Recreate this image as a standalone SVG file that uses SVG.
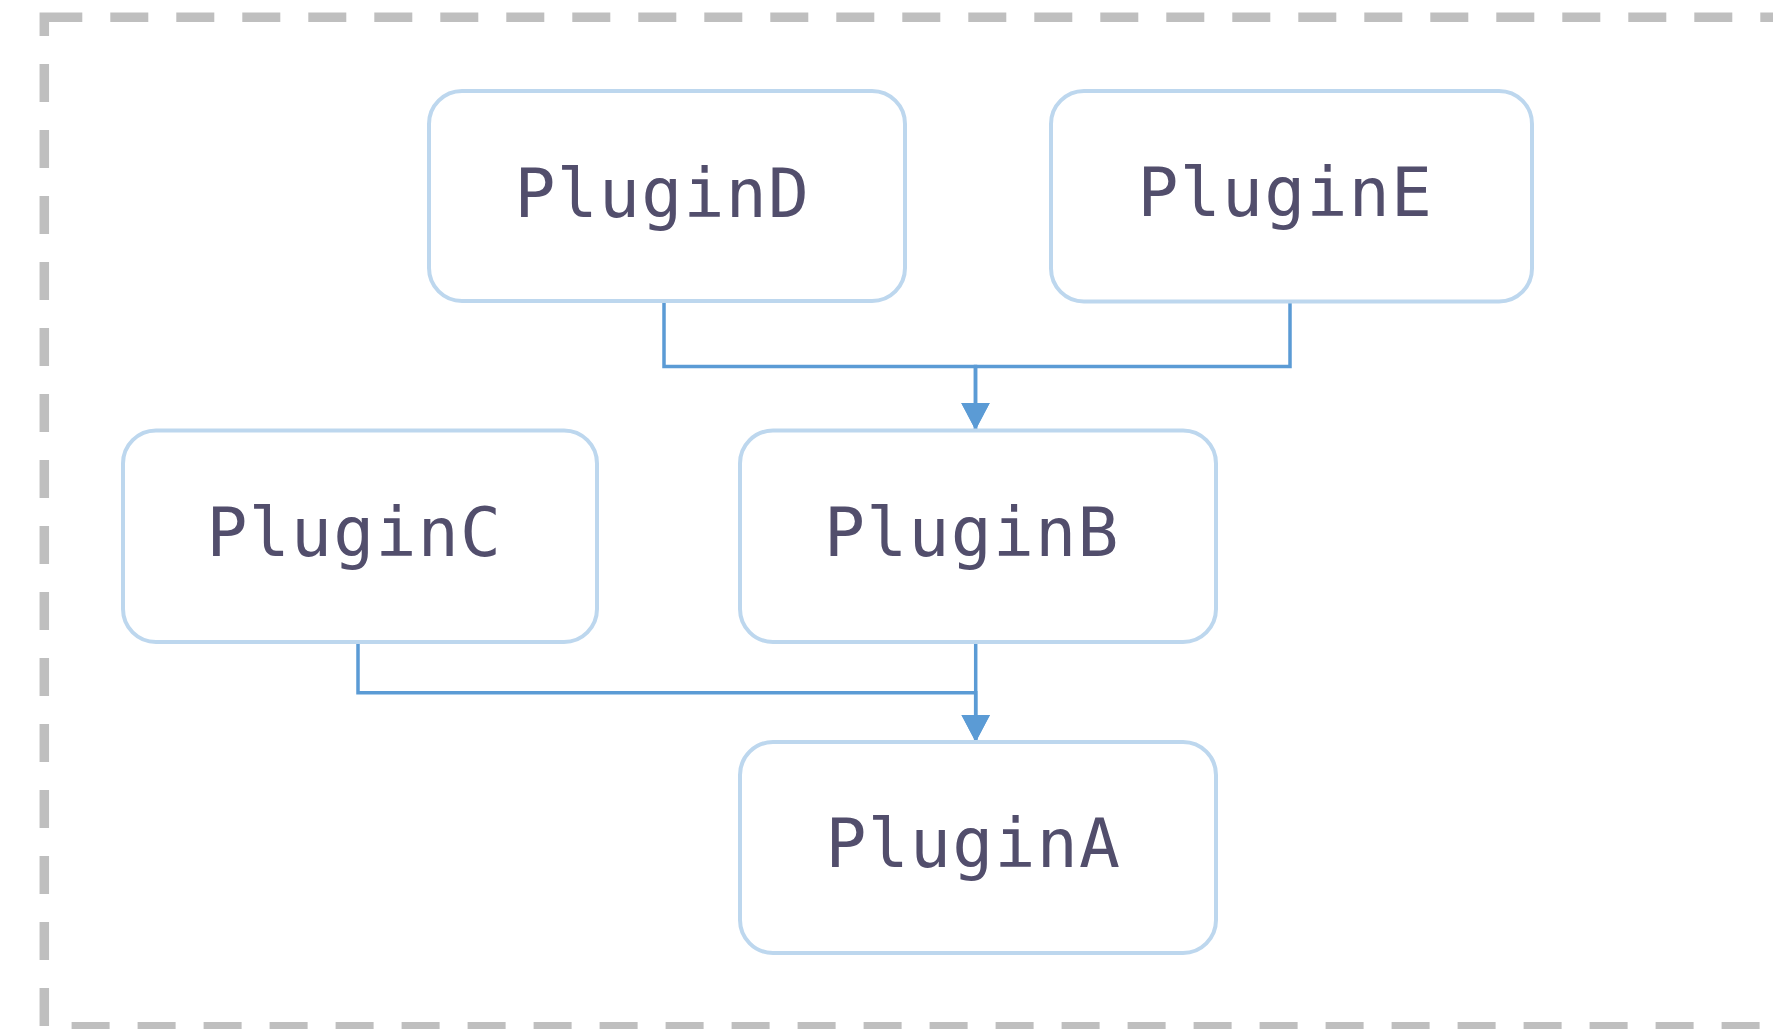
<svg xmlns="http://www.w3.org/2000/svg" width="1773" height="1029" viewBox="0 0 1773 1029">
  <style>
    .frame { fill: none; stroke: #bfbfbf; stroke-width: 9.5; stroke-dasharray: 38 28; }
    .node rect { fill: #ffffff; stroke: #bdd7ee; stroke-width: 4; }
    .node text { font-family: "DejaVu Sans Mono", "Liberation Mono", monospace; font-size: 68px; letter-spacing: 1.3px; fill: #524e6c; text-anchor: middle; }
    .edge { fill: none; stroke: #5b9bd5; stroke-width: 3.5; stroke-linejoin: miter; }
  </style>
  <defs>
    <marker id="arrow" markerUnits="userSpaceOnUse" markerWidth="29" markerHeight="29" refX="27.5" refY="14.5" orient="auto">
      <path d="M0,0 L27.5,14.5 L0,29 Z" fill="#5b9bd5"/>
    </marker>
  </defs>

  <rect width="1773" height="1029" fill="#ffffff"/>

  <!-- dashed container -->
  <rect class="frame" x="44.3" y="17.2" width="1771.9" height="1009.5"/>

  <!-- connectors -->
  <g id="edges">
    <path class="edge" d="M664,301 V366.5 H975.5 V430" marker-end="url(#arrow)"/>
    <path class="edge" d="M1290,301.5 V366.5 H975.5 V430" marker-end="url(#arrow)"/>
    <path class="edge" d="M358,642 V692.7 H975.7 V742" marker-end="url(#arrow)"/>
    <path class="edge" d="M975.7,642 V742" marker-end="url(#arrow)"/>
  </g>

  <!-- nodes -->
  <g id="PluginD" class="node">
    <rect x="429" y="91" width="476" height="210" rx="33"/>
    <text x="662.3" y="216.7">PluginD</text>
  </g>
  <g id="PluginE" class="node">
    <rect x="1051" y="91" width="481" height="210.5" rx="33"/>
    <text x="1285.3" y="216">PluginE</text>
  </g>
  <g id="PluginC" class="node">
    <rect x="123" y="430.5" width="474" height="211.5" rx="33"/>
    <text x="354.3" y="556">PluginC</text>
  </g>
  <g id="PluginB" class="node">
    <rect x="740" y="430.5" width="476" height="211.5" rx="33"/>
    <text x="971.9" y="555.5">PluginB</text>
  </g>
  <g id="PluginA" class="node">
    <rect x="740" y="742" width="476" height="211" rx="33"/>
    <text x="973.4" y="866.7">PluginA</text>
  </g>
</svg>
